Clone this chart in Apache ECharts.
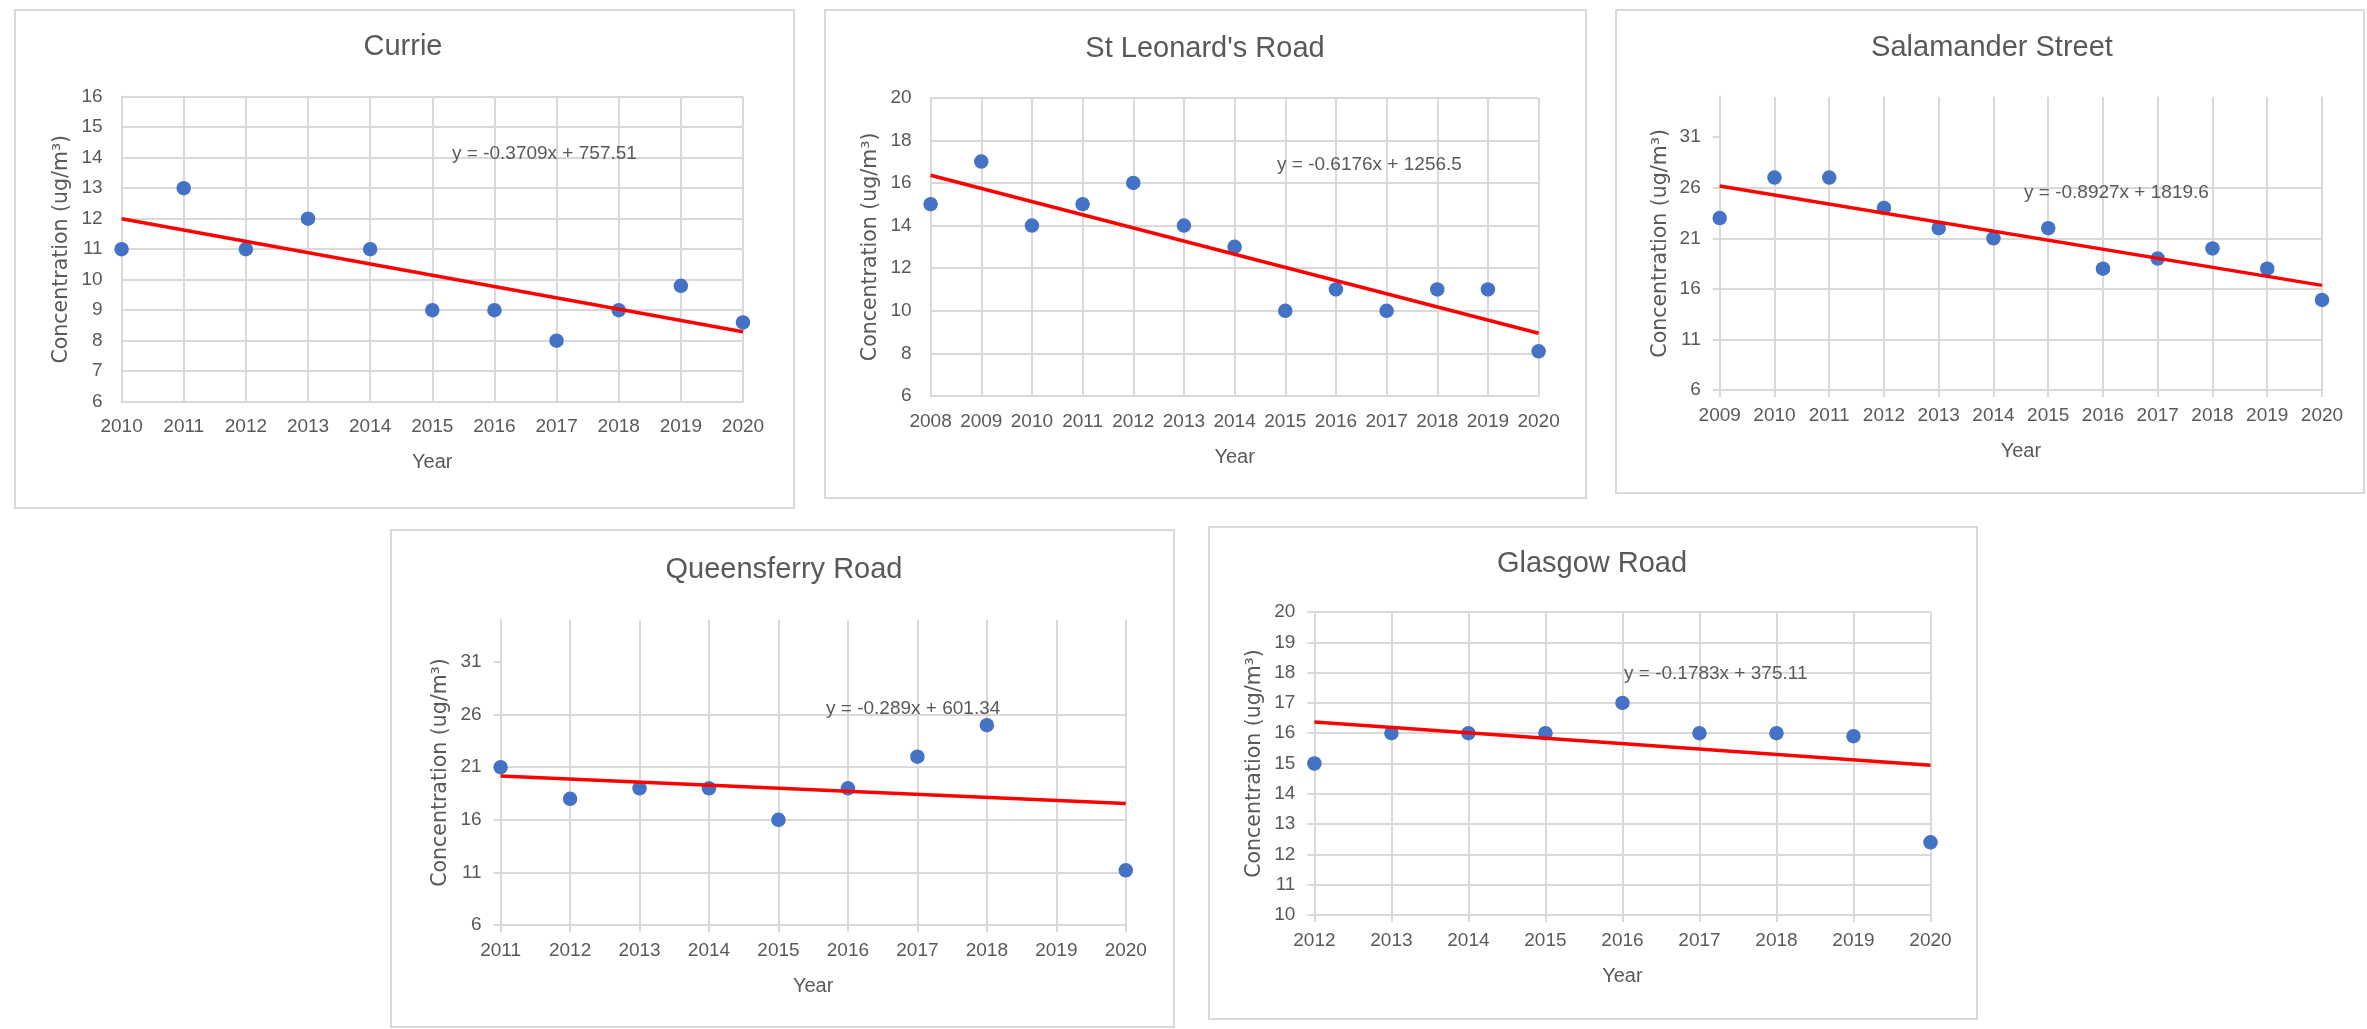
<!DOCTYPE html>
<html><head><meta charset="utf-8">
<script src="https://cdn.jsdelivr.net/npm/echarts@6/dist/echarts.min.js"></script>
<style>html,body{margin:0;padding:0;background:#fff}#c{width:2367px;height:1029px}</style>
</head><body><div id="c"></div>
<script>
// ---------- data ----------
const currieYears = [2010, 2011, 2012, 2013, 2014, 2015, 2016, 2017, 2018, 2019, 2020];
const currieValues = [11, 13, 11, 12, 11, 9, 9, 8, 9, 9.8, 8.6];

const leonardYears = [2008, 2009, 2010, 2011, 2012, 2013, 2014, 2015, 2016, 2017, 2018, 2019, 2020];
const leonardValues = [15, 17, 14, 15, 16, 14, 13, 10, 11, 10, 11, 11, 8.1];

const salamanderYears = [2009, 2010, 2011, 2012, 2013, 2014, 2015, 2016, 2017, 2018, 2019, 2020];
const salamanderValues = [23, 27, 27, 24, 22, 21, 22, 18, 19, 20, 18, 14.9];

const queensferryYears = [2011, 2012, 2013, 2014, 2015, 2016, 2017, 2018, 2020];
const queensferryValues = [21, 18, 19, 19, 16, 19, 22, 25, 11.2];

const glasgowYears = [2012, 2013, 2014, 2015, 2016, 2017, 2018, 2019, 2020];
const glasgowValues = [15, 16, 16, 16, 17, 16, 16, 15.9, 12.4];

const chartTitles = ['Currie', "St Leonard's Road", 'Salamander Street', 'Queensferry Road', 'Glasgow Road'];
const equationTexts = ['y = -0.3709x + 757.51', 'y = -0.6176x + 1256.5', 'y = -0.8927x + 1819.6', 'y = -0.289x + 601.34', 'y = -0.1783x + 375.11'];
const trendSlopes = [-0.3709, -0.6176, -0.8927, -0.289, -0.1783];
const trendIntercepts = [757.51, 1256.5, 1819.6, 601.34, 375.11];
const xMins = [2010, 2008, 2009, 2011, 2012];
const xMaxs = [2020, 2020, 2020, 2020, 2020];
const yMins = [6, 6, 6, 6, 10];
const yMaxs = [16, 20, 35, 35, 20];
const yIntervals = [1, 2, 5, 5, 1];
const yTickValues = [null, null, [6, 11, 16, 21, 26, 31], [6, 11, 16, 21, 26, 31], null];
const xAxisTitle = 'Year';
const yAxisTitle = 'Concentration (ug/m³)';

// ---------- layout (pixels) ----------
const boxes = [
  [15, 10, 794, 508], [825, 10, 1586, 498], [1616, 10, 2364, 493],
  [391, 530, 1174, 1027], [1209, 527, 1977, 1019]
];
const plots = [
  [121.6, 96.7, 743, 401.7], [930.6, 97.7, 1538.6, 396], [1719.7, 96.7, 2322, 390],
  [500.6, 620, 1125.8, 925], [1314.4, 612, 1930.5, 915]
];
const titlePos = [[403, 47], [1205, 49], [1992, 48], [784, 570], [1592, 564]];
const eqPos = [[452, 154], [1277, 165], [2024, 193], [826, 709], [1624, 674]];
const showTicks = [false, false, true, true, true];

const seriesYears = [currieYears, leonardYears, salamanderYears, queensferryYears, glasgowYears];
const seriesValues = [currieValues, leonardValues, salamanderValues, queensferryValues, glasgowValues];

const GRID = '#d9d9d9', TXT = '#595959', FONT = '"Liberation Sans", Arial, sans-serif';

const grids = [], xAxes = [], yAxes = [], series = [], graphics = [];
for (let i = 0; i < 5; i++) {
  const b = boxes[i], p = plots[i];
  graphics.push({ type: 'rect', z: -10, shape: { x: b[0], y: b[1], width: b[2] - b[0], height: b[3] - b[1] },
    style: { fill: '#fff', stroke: GRID, lineWidth: 2 } });
  graphics.push({ type: 'text', z: 10, style: { text: chartTitles[i], x: titlePos[i][0], y: titlePos[i][1],
    textAlign: 'center', textVerticalAlign: 'middle', font: '29px ' + FONT, fill: TXT } });
  graphics.push({ type: 'text', z: 10, style: { text: equationTexts[i], x: eqPos[i][0], y: eqPos[i][1],
    textAlign: 'left', textVerticalAlign: 'middle', font: '19px ' + FONT, fill: TXT } });

  grids.push({ left: p[0], top: p[1], width: p[2] - p[0], height: p[3] - p[1], containLabel: false });
  xAxes.push({
    type: 'value', gridIndex: i, min: xMins[i], max: xMaxs[i], interval: 1,
    name: xAxisTitle, nameLocation: 'middle', nameGap: 51,
    nameTextStyle: { color: TXT, fontSize: 20, fontFamily: FONT },
    axisLine: { show: true, lineStyle: { color: GRID, width: 2 } },
    axisTick: { show: showTicks[i], length: 7, lineStyle: { color: GRID, width: 2 } },
    axisLabel: { color: TXT, fontSize: 19, fontFamily: FONT, margin: 16, formatter: v => String(v) },
    splitLine: { show: true, lineStyle: { color: GRID, width: 2 } }
  });
  const yTick = { show: showTicks[i], length: 7, lineStyle: { color: GRID, width: 2 } };
  if (yTickValues[i]) yTick.customValues = yTickValues[i];
  const hideMax = (yMaxs[i] - yMins[i]) % yIntervals[i] !== 0;
  yAxes.push({
    type: 'value', gridIndex: i, min: yMins[i], max: yMaxs[i], interval: yIntervals[i],
    name: yAxisTitle, nameLocation: 'middle', nameGap: 49,
    nameTextStyle: { color: TXT, fontSize: 20.5, fontFamily: '"DejaVu Sans", sans-serif' },
    axisLine: { show: true, lineStyle: { color: GRID, width: 2 } },
    axisTick: yTick,
    axisLabel: { color: TXT, fontSize: 19, fontFamily: FONT, margin: 19, showMaxLabel: !hideMax },
    splitLine: { show: true, showMaxLine: !hideMax, lineStyle: { color: GRID, width: 2 } }
  });
  const yrs = seriesYears[i], vals = seriesValues[i];
  series.push({
    type: 'scatter', xAxisIndex: i, yAxisIndex: i, symbol: 'circle', symbolSize: 14.5,
    itemStyle: { color: '#4472c4', opacity: 1 }, z: 3, silent: true,
    data: yrs.map((y, k) => [y, vals[k]])
  });
  const x0 = yrs[0], x1 = yrs[yrs.length - 1];
  series.push({
    type: 'line', xAxisIndex: i, yAxisIndex: i, showSymbol: false, symbol: 'none', z: 4, silent: true,
    lineStyle: { color: '#ff0000', width: 3.5 },
    data: [[x0, trendSlopes[i] * x0 + trendIntercepts[i]], [x1, trendSlopes[i] * x1 + trendIntercepts[i]]]
  });
}

const chart = echarts.init(document.getElementById('c'), null, { renderer: 'canvas' });
chart.setOption({
  backgroundColor: '#fff', animation: false,
  grid: grids, xAxis: xAxes, yAxis: yAxes, series: series,
  graphic: { elements: graphics }
});
</script>
</body></html>
